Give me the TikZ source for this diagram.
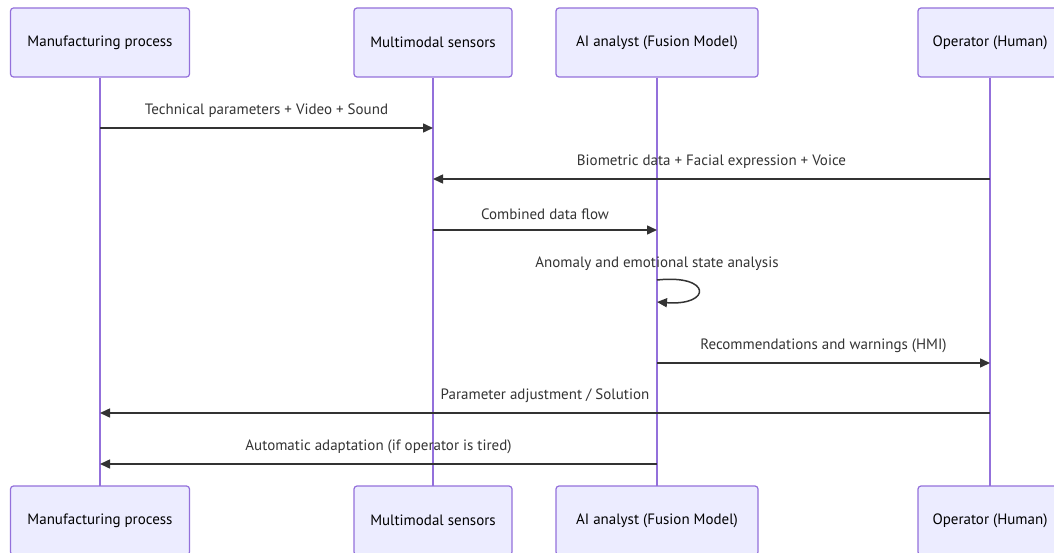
\documentclass[tikz,border=0pt]{standalone}
\usepackage{fontspec}
\setmainfont{PT Sans}
\usepackage{tikz}
\usetikzlibrary{positioning,arrows.meta}
\definecolor{actorfill}{HTML}{ECECFF}
\definecolor{actorline}{HTML}{9370DB}
\definecolor{msgline}{HTML}{333333}

\tikzset{
    actor/.style={draw=actorline, fill=actorfill, line width=1.2pt, rounded corners=3pt,
        minimum height=69pt, inner sep=0pt, font=\fontsize{15}{18}\selectfont},
    life/.style={draw=actorline, line width=1.5pt},
    msg/.style={draw=msgline, line width=1.5pt, -{Triangle[length=10pt,width=9pt]}},
    lbl/.style={font=\fontsize{15}{18}\selectfont, text=msgline, above=6pt}
}

\begin{document}
\begin{tikzpicture}[x=1pt, y=-1pt]
        \useasboundingbox (0,0) rectangle (1054,553);
        % actors, top row
        \node[actor, minimum width=179pt] (proc) at (100,42.5) {Manufacturing process};
        \node[actor, minimum width=158pt] (sens) at (433,42.5) {Multimodal sensors};
        \node[actor, minimum width=202pt] (ai) at (657,42.5) {AI analyst (Fusion Model)};
        \node[actor, minimum width=144pt] (op) at (990,42.5) {Operator (Human)};
        % lifelines
        \draw[life] (proc.south) -- (100,486);
        \draw[life] (sens.south) -- (433,486);
        \draw[life] (ai.south) -- (657,486);
        \draw[life] (op.south) -- (990,486);
        % actors, bottom row
        \node[actor, minimum width=179pt] (procB) at (100,520.5) {Manufacturing process};
        \node[actor, minimum width=158pt] (sensB) at (433,520.5) {Multimodal sensors};
        \node[actor, minimum width=202pt] (aiB) at (657,520.5) {AI analyst (Fusion Model)};
        \node[actor, minimum width=144pt] (opB) at (990,520.5) {Operator (Human)};

        % message end points
        \coordinate (m1a) at (100,128);  \coordinate (m1b) at (433,128);
        \coordinate (m2a) at (990,179);  \coordinate (m2b) at (433,179);
        \coordinate (m3a) at (433,230);  \coordinate (m3b) at (657,230);
        \coordinate (s1) at (657,280);   \coordinate (s2) at (657,302);
        \coordinate (m5a) at (657,363);  \coordinate (m5b) at (990,363);
        \coordinate (m6a) at (990,413);  \coordinate (m6b) at (100,413);
        \coordinate (m7a) at (657,464);  \coordinate (m7b) at (100,464);

        \draw[msg] (m1a) -- (m1b) node[midway, lbl] {Technical parameters + Video + Sound};
        \draw[msg] (m2a) -- (m2b) node[midway, lbl] {Biometric data + Facial expression + Voice};
        \draw[msg] (m3a) -- (m3b) node[midway, lbl] {Combined data flow};
        \node[lbl] (selfl) at (s1) {Anomaly and emotional state analysis};
        \draw[msg] (s1) .. controls (712,274) and (712,306) .. (s2);
        \draw[msg] (m5a) -- (m5b) node[midway, lbl] {Recommendations and warnings (HMI)};
        \draw[msg] (m6a) -- (m6b) node[midway, lbl] {Parameter adjustment / Solution};
        \draw[msg] (m7a) -- (m7b) node[midway, lbl] {Automatic adaptation (if operator is tired)};
    \end{tikzpicture}
\end{document}
